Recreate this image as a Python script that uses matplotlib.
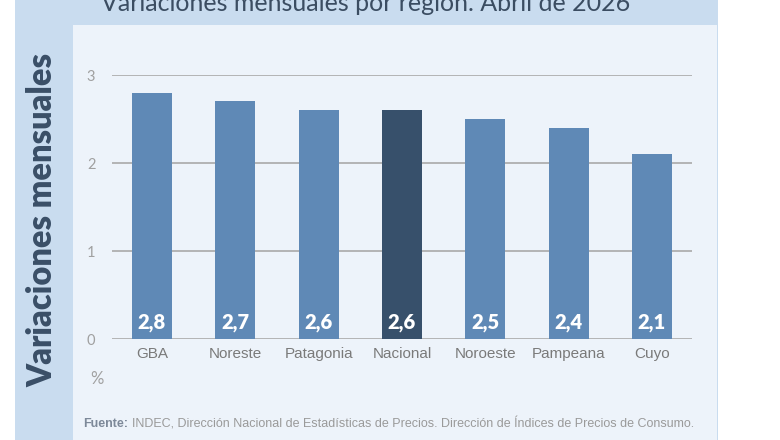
import matplotlib.pyplot as plt
from matplotlib.patches import Rectangle

# data
regions = ['GBA', 'Noreste', 'Patagonia', 'Nacional', 'Noroeste', 'Pampeana', 'Cuyo']
values = [2.8, 2.7, 2.6, 2.6, 2.5, 2.4, 2.1]
value_labels = ['2,8', '2,7', '2,6', '2,6', '2,5', '2,4', '2,1']
highlight = 'Nacional'
yticks = [0, 1, 2, 3]

W, H = 780, 440
fig = plt.figure(figsize=(W / 100, H / 100), dpi=100)
fig.patch.set_facecolor('white')

frame_col = '#c9dcef'
panel_col = '#edf3fa'
bar_col = '#5f89b6'
hi_col = '#37506b'


def px(x0, y0, w, h):
    # pixel box (top-left origin) -> figure fraction
    return [x0 / W, 1 - (y0 + h) / H, w / W, h / H]


# outer frame and inner panel
fig.patches.append(Rectangle((15 / W, 0), (718 - 15) / W, 1, transform=fig.transFigure,
                             facecolor=frame_col, edgecolor='none', zorder=-2))
fig.patches.append(Rectangle((73 / W, 0), (717 - 73) / W, 1 - 25 / H, transform=fig.transFigure,
                             facecolor=panel_col, edgecolor='none', zorder=-1))

# title, cut at the top edge as in the original
fig.text(366 / W, 1 - 11 / H, 'Variaciones mensuales por región. Abril de 2026',
         ha='center', va='baseline', fontsize=18, color='#3b4d62', family='Lato')

# vertical label in the frame strip
fig.text(42 / W, 1 - 220 / H, 'Variaciones mensuales', rotation=90, ha='center', va='center',
         fontsize=23.5, fontweight='heavy', color='#3a4f67', family='Lato')

ax = fig.add_axes(px(112, 75, 580, 264))
ax.set_facecolor('none')
x = range(len(regions))
colors = [hi_col if r == highlight else bar_col for r in regions]
bars = ax.bar(x, values, width=0.48, color=colors, zorder=3)

for b, lab in zip(bars, value_labels):
    ax.text(b.get_x() + b.get_width() / 2, 0.08, lab, ha='center', va='bottom',
            color='white', fontsize=14.5, fontweight='heavy', family='Lato', zorder=4)

ax.set_xlim(-0.48, len(regions) - 0.52)
ax.set_ylim(0, 3)
ax.set_yticks(yticks)
ax.yaxis.grid(True, color='#a9a9a9', linewidth=1.2, zorder=1)
ax.set_axisbelow(True)
for s in ax.spines.values():
    s.set_visible(False)
ax.tick_params(length=0)
ax.set_yticklabels([str(t) for t in yticks], fontsize=10.5, color='#a0a0a0', family='Lato')
ax.tick_params(axis='y', pad=12)
ax.set_xticks(list(x))
ax.set_xticklabels(regions, fontsize=11, color='#7a7a7a', family='Liberation Sans')
ax.tick_params(axis='x', pad=6)

fig.text(97 / W, 1 - 379 / H, '%', ha='center', va='center', fontsize=12, color='#a0a0a0', family='Lato')

fig.text(83 / W, 1 - 424 / H, 'Fuente:', ha='left', va='center', fontsize=9,
         fontweight='bold', color='#7d8999', family='Liberation Sans')
fig.text(132 / W, 1 - 424 / H,
         'INDEC, Dirección Nacional de Estadísticas de Precios. Dirección de Índices de Precios de Consumo.',
         ha='left', va='center', fontsize=9, color='#9a9a9a', family='Liberation Sans')

fig.savefig('out.png', dpi=100)
